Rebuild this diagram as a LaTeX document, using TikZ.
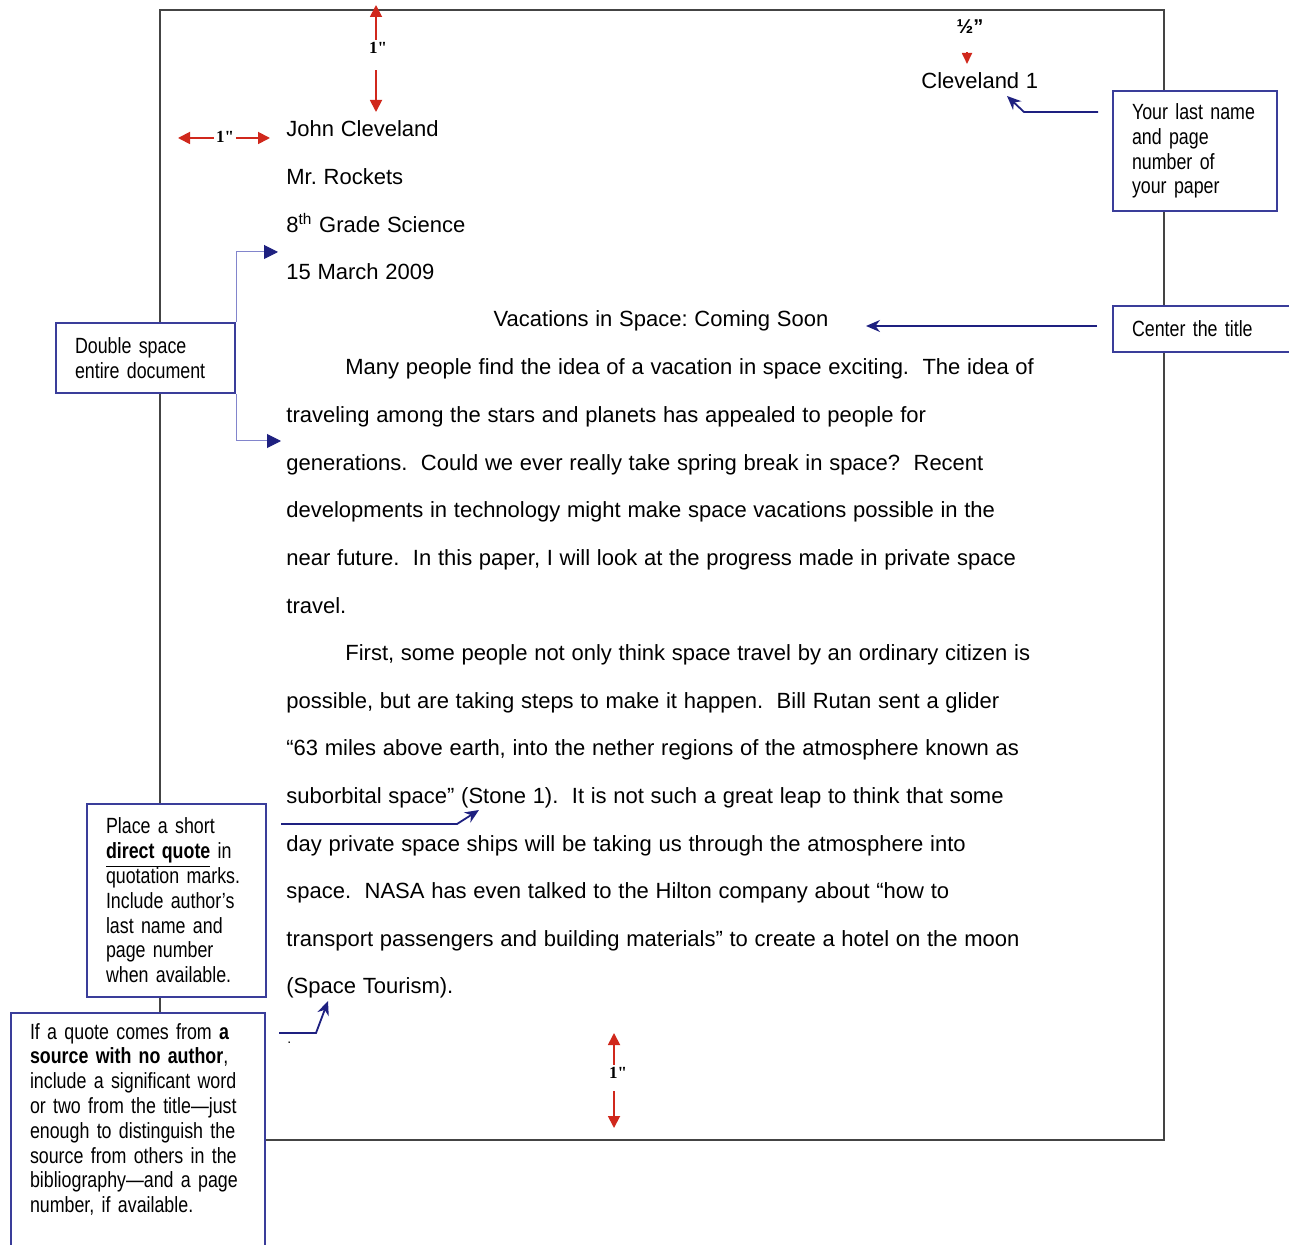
\documentclass[tikz,border=0pt]{standalone}
\usepackage{fontspec}
\setmainfont[WordSpace=1.1]{Liberation Sans}
\newfontfamily\narrowsf[FakeStretch=0.81,WordSpace=0.85,Ligatures=TeX]{Liberation Sans}
\newfontfamily\timesrm{Liberation Serif}
\usetikzlibrary{arrows.meta,calc}
\frenchspacing
\definecolor{papnavy}{HTML}{1E2080}
\definecolor{papbox}{HTML}{3A3D9A}
\definecolor{paplink}{HTML}{8285CC}
\definecolor{papred}{HTML}{D0281C}
\definecolor{papframe}{HTML}{444444}
\tikzset{
  ln/.style={anchor=base west, inner sep=0pt, font=\fontsize{11}{13}\selectfont},
  note/.style={draw=papbox, line width=1pt, fill=white, anchor=north west, align=left, inner xsep=9.5pt, inner ysep=0pt, font=\narrowsf\fontsize{11}{12.4}\selectfont},
  inch/.style={font=\timesrm\bfseries\fontsize{8.5}{9}\selectfont, inner sep=1pt},
  redarr/.style={-{Triangle[length=6pt,width=6pt]}, line width=0.9pt, color=papred},
  bluearr/.style={-{Stealth[length=7pt,width=6pt]}, line width=0.9pt, color=papnavy},
  guide/.style={-{Triangle[length=7pt,width=7pt,color=papnavy]}, line width=0.5pt, color=paplink},
}
\begin{document}
\begin{tikzpicture}[x=0.5pt,y=-0.5pt]
  \useasboundingbox (0,0) rectangle (1289,1245);
  % page
  \draw[papframe, line width=1.3pt] (160,10) rectangle (1164,1140);
  % body text, double spaced
  \node[ln] (pgnum) at (921,89) {Cleveland 1};
  \foreach \i/\x/\t in {1/286/John Cleveland, 2/286/Mr. Rockets, 3/286/8\textsuperscript{th} Grade Science, 4/286/15 March 2009,
      6/345/Many people find the idea of a vacation in space exciting.~ The idea of,
      7/286/traveling among the stars and planets has appealed to people for,
      8/286/generations.~ Could we ever really take spring break in space?~ Recent,
      9/286/developments in technology might make space vacations possible in the,
      10/286/{near future.~ In this paper, I will look at the progress made in private space},
      11/286/travel.,
      12/345/{First, some people not only think space travel by an ordinary citizen is},
      13/286/{possible, but are taking steps to make it happen.~ Bill Rutan sent a glider},
      14/286/{“63 miles above earth, into the nether regions of the atmosphere known as},
      15/286/suborbital space” (Stone 1).~ It is not such a great leap to think that some,
      16/286/day private space ships will be taking us through the atmosphere into,
      17/286/space.~ NASA has even talked to the Hilton company about “how to,
      18/286/transport passengers and building materials” to create a hotel on the moon,
      19/286/(Space Tourism).}
    \node[ln] (l\i) at (\x,{137+47.6*(\i-1)}) {\t};
  \node[ln, anchor=base] (title) at (661,327) {Vacations in Space: Coming Soon};
  \node[ln, font=\fontsize{7}{8}\selectfont] (dot) at (287,1043) {.};
  % margins
  \node[inch] (topin) at (378,48) {1"};
  \coordinate (toptip) at (376,5);
  \coordinate (topend) at (376,112);
  \draw[redarr] (topin.north -| toptip) -- (toptip);
  \draw[redarr] ([yshift=-7pt]topin.south -| toptip) -- (topend);
  \node[inch] (leftin) at (225,137) {1"};
  \coordinate (lefttip) at (178,138);
  \coordinate (leftend) at (270,138);
  \draw[redarr] (leftin.west |- lefttip) -- (lefttip);
  \draw[redarr] (leftin.east |- leftend) -- (leftend);
  \node[inch] (botin) at (618,1073) {1"};
  \coordinate (bottip) at (614,1033);
  \coordinate (botend) at (614,1128);
  \draw[redarr] (botin.north -| bottip) -- (bottip);
  \draw[redarr] ([yshift=-5pt]botin.south -| botend) -- (botend);
  \node[font=\bfseries\fontsize{10}{12}\selectfont, inner sep=1pt] (half) at (970,27) {½"};
  \coordinate (halftip) at (967,64);
  \draw[redarr, -{Triangle[length=5.5pt,width=5pt]}] ([yshift=-8pt]half.south -| halftip) -- (halftip);
  % callouts
  \node[note, text width=63pt, minimum height=60pt] (namebox) at (1112,90) {Your last name\\and page\\number of\\your paper};
  \node[note, text width=69.5pt, minimum height=23pt] (ctrbox) at (1112,305) {Center the title};
  \node[note, text width=70.5pt, minimum height=35pt] (dblbox) at (55,322) {Double space\\entire document};
  \node[note, text width=70.5pt, minimum height=96.5pt] (quotebox) at (86,803) {Place a short\\\textbf{\underline{direct quote}} in\\quotation marks.\\Include author's\\last name and\\page number\\when available.};
  \node[note, text width=108pt, minimum height=119pt] (srcbox) at (10,1012) {If a quote comes from \textbf{a}\\\textbf{source with no author},\\include a significant word\\or two from the title—just\\enough to distinguish the\\source from others in the\\bibliography—and a page\\number, if available.\\[-2pt]\strut};
  \coordinate (nametip) at (1007,96);
  \coordinate (titletip) at (866,326);
  \coordinate (dbltop) at (278,252);
  \coordinate (dblbot) at (281,441);
  \coordinate (quotetip) at (479,810);
  \coordinate (srctip) at (328,1001);
  \draw[bluearr] ([xshift=-7pt,yshift=-11pt]namebox.north west) -- ++(-74,0) -- (nametip);
  \draw[bluearr] ([xshift=-7.5pt]ctrbox.west |- titletip) -- (titletip);
  \draw[guide] (dblbox.north east) |- (dbltop);
  \draw[guide] (dblbox.south east) |- (dblbot);
  \draw[bluearr] ([xshift=7pt,yshift=-10.5pt]quotebox.north east) -- ++(176,0) -- (quotetip);
  \draw[bluearr] ([xshift=6.5pt,yshift=-10.5pt]srcbox.north east) -- ++(37,0) -- (srctip);
\end{tikzpicture}
\end{document}
